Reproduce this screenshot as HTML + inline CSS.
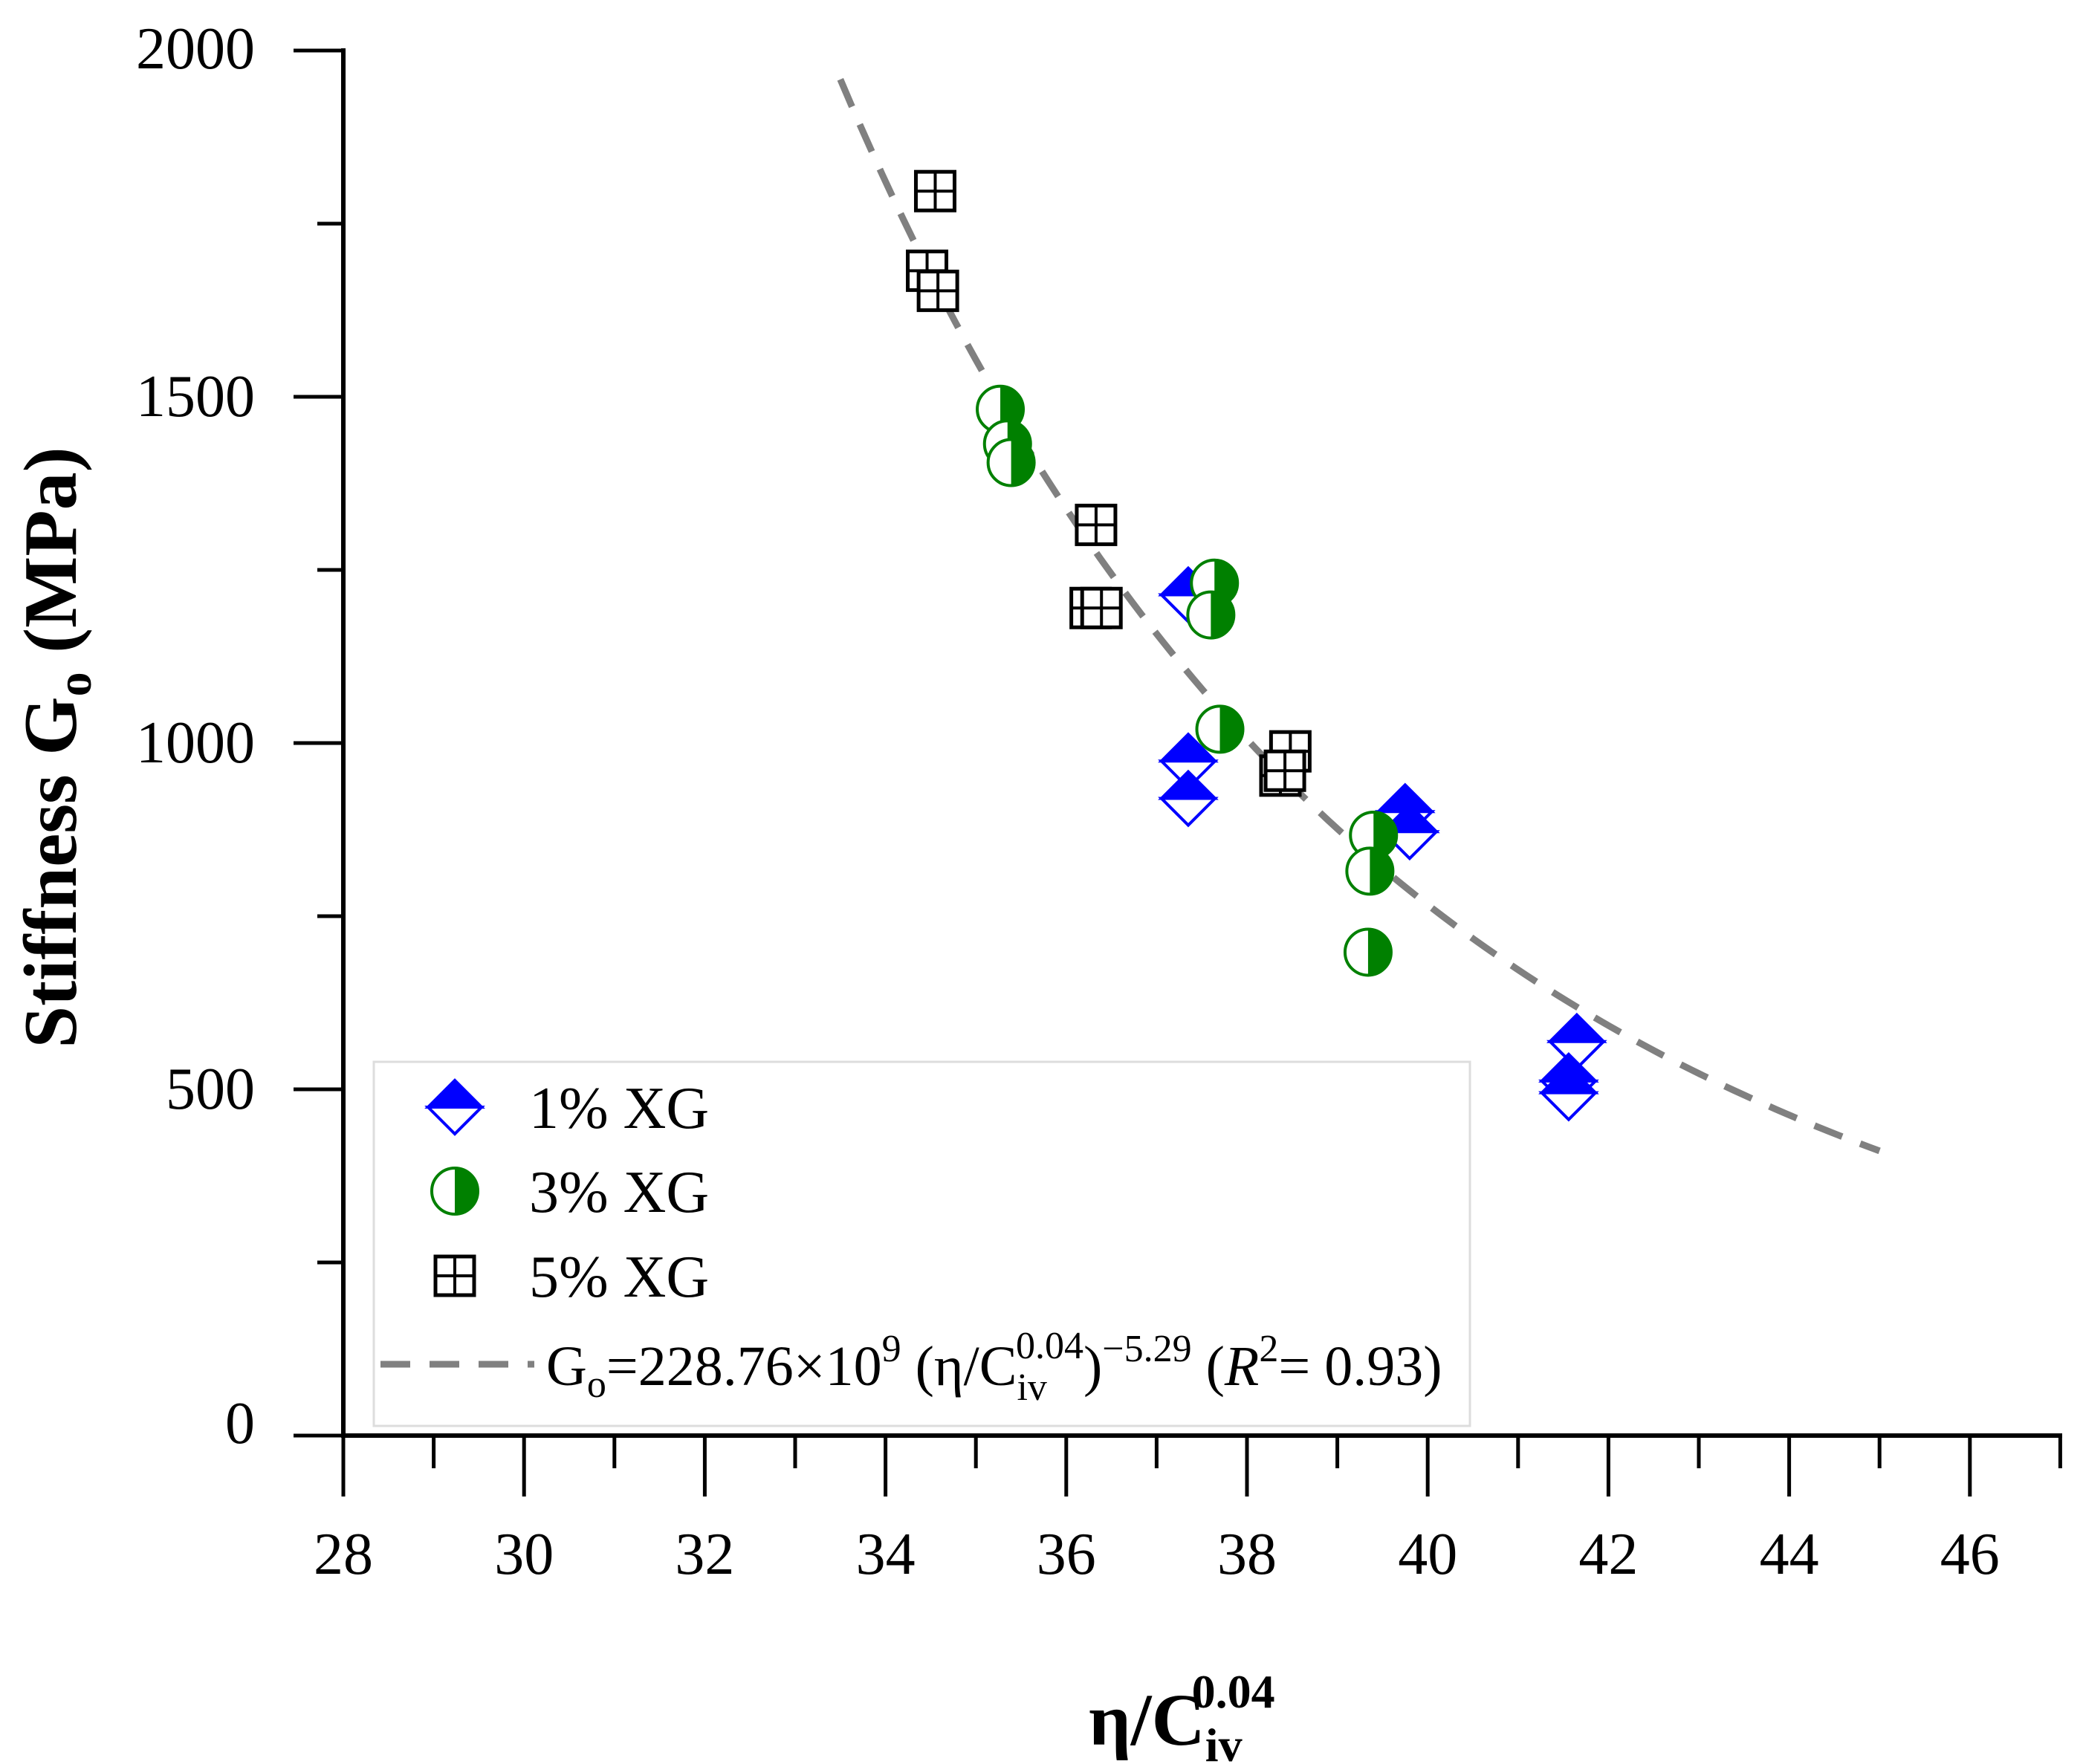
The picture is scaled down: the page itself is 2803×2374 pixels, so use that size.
<!DOCTYPE html>
<html><head><meta charset="utf-8"><style>
body{margin:0;background:#fff}
svg{display:block;font-family:"Liberation Serif",serif}
</style></head><body>
<svg id="chart" width="2803" height="2374" viewBox="0 0 2803 2374" xmlns="http://www.w3.org/2000/svg">
<g id="axes"></g>
<g id="curve"></g>
<g id="marks"></g>
<g id="legend">
  <rect x="503" y="1429" width="1475" height="490" fill="#fff" stroke="#ddd" stroke-width="3"/>
</g>
<text x="1465" y="2348" font-size="100" font-weight="bold">η/C<tspan font-size="64" dy="22">iv</tspan><tspan font-size="64" dx="-68" dy="-72">0.04</tspan></text>
<text transform="translate(102,1006) rotate(-90)" text-anchor="middle" font-size="102" font-weight="bold">Stiffness G<tspan font-size="66" dy="20">o</tspan><tspan dy="-20"> (MPa)</tspan></text>
</svg>
<script>
const xTicks=[28,30,32,34,36,38,40,42,44,46];
const yTicks=[0,500,1000,1500,2000];
const s1x=[37.35,37.35,37.35,39.75,39.8,41.65,41.56,41.56];
const s1y=[1214,974,920,901,872,569,512,495];
const s3x=[35.27,35.35,35.39,37.64,37.6,37.7,39.4,39.36,39.34];
const s3y=[1482,1432,1405,1231,1185,1020,867,815,698];
const s5x=[34.55,34.46,34.58,36.33,36.27,36.39,38.48,38.37,38.42];
const s5y=[1797,1682,1653,1315,1195,1195,988,953,960];
const fitA=228.76e9, fitB=-5.29, fitRange=[33.5,45];
const X=v=>462+(v-28)*121.6;
const Y=v=>1932-v*0.932;
const NS="http://www.w3.org/2000/svg";
function mk(t,a,p){const e=document.createElementNS(NS,t);for(const k in a)e.setAttribute(k,a[k]);p.appendChild(e);return e;}
const ax=document.getElementById('axes');
let l=mk('line',{x1:462,y1:Y(0),x2:2775,y2:Y(0),stroke:'#000','stroke-width':6},ax);


l=mk('line',{x1:462,y1:Y(0)+3,x2:462,y2:Y(2000)-3,stroke:'#000','stroke-width':6},ax);


for(let v=28;v<=47;v++){const maj=v%2==0;const t=mk('line',{x1:X(v),y1:Y(0),x2:X(v),y2:Y(0)+(maj?82:44),stroke:'#000','stroke-width':5},ax);

}
xTicks.forEach(v=>{const t=mk('text',{x:X(v),y:2118,'font-size':80,'text-anchor':'middle'},ax);t.textContent=v;

});
for(let v=0;v<=2000;v+=250){const maj=v%500==0;const t=mk('line',{x1:462,y1:Y(v),x2:462-(maj?67:35),y2:Y(v),stroke:'#000','stroke-width':5},ax);

}
yTicks.forEach(v=>{const t=mk('text',{x:343,y:Y(v)+(v==2000?24:v==0?10:26),'font-size':80,'text-anchor':'end'},ax);t.textContent=v;

});
let d='';for(let i=0;i<=100;i++){const x=fitRange[0]+(fitRange[1]-fitRange[0])*i/100;const y=fitA*Math.pow(x,fitB);d+=(i?'L':'M')+X(x).toFixed(1)+','+Y(y).toFixed(1);}
const c=mk('path',{d:d,fill:'none',stroke:'#808080','stroke-width':9,'stroke-dasharray':'40,26'},document.getElementById('curve'));


function diamond(cx,cy,p){const g=mk('g',{},p);const r=36;
mk('path',{d:`M${cx-r},${cy}L${cx},${cy-r}L${cx+r},${cy}Z`,fill:'#0000ff',stroke:'#0000ff','stroke-width':4},g);
mk('path',{d:`M${cx-r},${cy}L${cx},${cy+r}L${cx+r},${cy}Z`,fill:'#fff',stroke:'#0000ff','stroke-width':4},g);return g;}
function halfc(cx,cy,p){const g=mk('g',{},p);const r=31;
mk('circle',{cx:cx,cy:cy,r:r,fill:'#fff',stroke:'#008000','stroke-width':4},g);
mk('path',{d:`M${cx},${cy-r}A${r},${r} 0 0 1 ${cx},${cy+r}Z`,fill:'#008000'},g);return g;}
function sq(cx,cy,p){const g=mk('g',{},p);const r=26;
mk('rect',{x:cx-r,y:cy-r,width:2*r,height:2*r,fill:'#fff',stroke:'#000','stroke-width':5},g);
mk('path',{d:`M${cx},${cy-r}V${cy+r}M${cx-r},${cy}H${cx+r}`,stroke:'#000','stroke-width':4},g);return g;}
const m=document.getElementById('marks');
s5x.forEach((v,i)=>{const g=sq(X(v),Y(s5y[i]),m);
});
s1x.forEach((v,i)=>{const g=diamond(X(v),Y(s1y[i]),m);
});
s3x.forEach((v,i)=>{const g=halfc(X(v),Y(s3y[i]),m);
});
const lg=document.getElementById('legend');
const labels=['1% XG','3% XG','5% XG'];const ly=[1490,1603,1717];
[diamond,halfc,sq].forEach((f,i)=>{const g=f(612,ly[i],lg);

const t=mk('text',{x:712,y:ly[i]+28,'font-size':80},lg);t.textContent=labels[i];

});
const dl=mk('line',{x1:512,y1:1836,x2:719,y2:1836,stroke:'#808080','stroke-width':9,'stroke-dasharray':'40,26'},lg);


const ft=mk('text',{x:735,y:1864,'font-size':76},lg);


ft.innerHTML='G<tspan font-size="52" dy="16">o</tspan><tspan dy="-16">=228.76×10</tspan><tspan font-size="52" dy="-32">9</tspan><tspan dy="32"> (η/C</tspan><tspan font-size="52" dy="20">iv</tspan><tspan font-size="52" dx="-42" dy="-56">0.04</tspan><tspan dy="36">)</tspan><tspan font-size="52" dy="-32">−5.29</tspan><tspan dy="32"> (</tspan><tspan font-style="italic">R</tspan><tspan font-size="52" dy="-32">2</tspan><tspan dy="32">= 0.93)</tspan>';
</script>
</body></html>
